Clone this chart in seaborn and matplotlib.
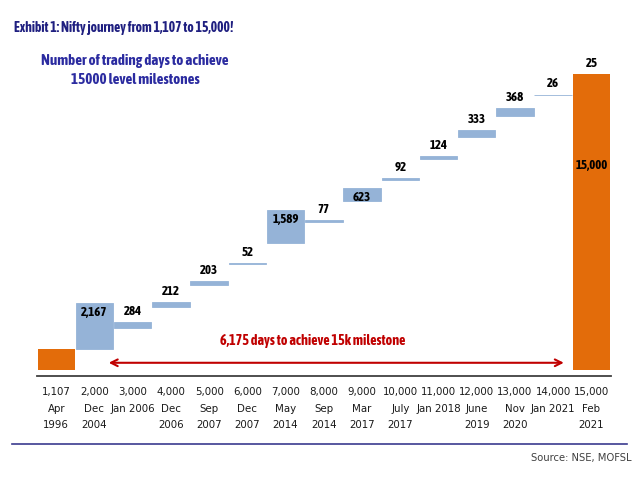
import os
import pandas as pd
import seaborn as sns
import matplotlib.pyplot as plt
from matplotlib import font_manager
from matplotlib.font_manager import FontProperties

# Nifty milestones and trading days taken to reach the next one
levels = [1107, 2000, 3000, 4000, 5000, 6000, 7000, 8000, 9000, 10000,
          11000, 12000, 13000, 14000, 15000]
dates = ['Apr\n1996', 'Dec\n2004', 'Jan 2006', 'Dec\n2006', 'Sep\n2007',
         'Dec\n2007', 'May\n2014', 'Sep\n2014', 'Mar\n2017', 'July\n2017',
         'Jan 2018', 'June\n2019', 'Nov\n2020', 'Jan 2021', 'Feb\n2021']
days = [2167, 284, 212, 203, 52, 1589, 77, 623, 92, 124, 333, 368, 26, 25]

labels = [f'{lv:,}\n{d}' for lv, d in zip(levels, dates)]

blue = '#95B3D7'
orange = '#E36C0A'
red = '#C00000'


def condensed_file(weight):
    # a true condensed sans face, picked by file name
    hits = []
    for f in font_manager.fontManager.ttflist:
        b = os.path.basename(f.fname)
        if f.style != 'normal' or f.weight != weight:
            continue
        if not ('Narrow' in b or 'Condensed' in b):
            continue
        if any(k in b for k in ('Semi', 'Extra', 'Serif', 'Mono', 'Italic', 'Display')):
            continue
        rank = 0 if 'Liberation' in b else 1 if b.startswith('NotoSans-') else 2
        hits.append((rank, len(b), f.fname))
    return sorted(hits)[0][2] if hits else None


reg_file = condensed_file(400)
bold_file = condensed_file(700)
narrow = reg_file is not None and bold_file is not None
shrink = 1.0 if narrow else 0.85


def fp(size, bold=False):
    if narrow:
        return FontProperties(fname=bold_file if bold else reg_file, size=size)
    return FontProperties(family='Liberation Sans', weight='bold' if bold else 'normal',
                          size=size * shrink)


# floating bars: start at the level, height = days
steps = pd.DataFrame({'label': labels[1:-1], 'base': levels[1:-1], 'days': days[:-1]})
ends = pd.DataFrame({'label': [labels[0], labels[-1]], 'top': [levels[1], levels[-1]]})

fig = plt.figure(figsize=(6.4, 4.8), dpi=100)
ax = fig.add_axes([0.058, 0.229, 0.896, 0.705])

sns.barplot(data=ends, x='label', y='top', order=labels, color=orange,
            width=0.98, errorbar=None, linewidth=0, saturation=1, ax=ax)
sns.barplot(data=steps, x='label', y='days', order=labels, color=blue,
            width=0.98, errorbar=None, bottom=steps['base'].values,
            edgecolor=blue, linewidth=0.6, saturation=1, ax=ax)

ax.set_ylim(1000, 17000)
ax.set_xlim(-0.5, len(labels) - 0.5)

# day labels
for i, (b, d) in enumerate(zip(steps['base'], steps['days']), start=1):
    if d > 500:
        ax.annotate(f'{d:,}', (i, b + d), xytext=(0, -7), textcoords='offset points',
                    ha='center', va='center', fontproperties=fp(9.3, True))
    else:
        ax.annotate(f'{d:,}', (i, b + d), xytext=(0, 3), textcoords='offset points',
                    ha='center', va='bottom', fontproperties=fp(9.3, True))
n = len(labels) - 1
ax.annotate(f'{days[-1]:,}', (n, levels[-1]), xytext=(0, 3), textcoords='offset points',
            ha='center', va='bottom', fontproperties=fp(9.3, True))
ax.text(n, levels[-1] * 0.713, f'{levels[-1]:,}', ha='center', va='center',
        fontproperties=fp(9.3, True))

# total span arrow
ax.annotate('', xy=(1.3, 1345), xytext=(13.35, 1345),
            arrowprops=dict(arrowstyle='<->', color=red, lw=1.5, mutation_scale=12))
ax.text(6.7, 2385, f'{sum(days):,} days to achieve 15k milestone', color=red,
        ha='center', va='center', fontproperties=fp(10.2, True))

for s in ['top', 'right', 'left']:
    ax.spines[s].set_visible(False)
ax.spines['bottom'].set_position(('outward', 4))
ax.spines['bottom'].set_color('#404040')
ax.spines['bottom'].set_linewidth(1.3)
ax.set_yticks([])
ax.set_xticks(range(len(labels)))
ax.set_xticklabels(labels, fontproperties=fp(8.2), linespacing=1.85, color='#1a1a1a')
ax.tick_params(axis='x', length=0, pad=8)
ax.set_xlabel('')
ax.set_ylabel('')

fig.text(0.022, 0.942, 'Exhibit 1: Nifty journey from 1,107 to 15,000!',
         fontproperties=fp(9.8, True), color='#1F1F80', va='center')
fig.text(0.211, 0.854, 'Number of trading days to achieve\n15000 level milestones',
         fontproperties=fp(10.8, True), color='#2B2BA0', ha='center', va='center',
         linespacing=1.45)
fig.add_artist(plt.Line2D([0.019, 0.98], [0.075, 0.075], color='#3B3B8F', lw=1.2))
fig.text(0.986, 0.045, 'Source: NSE, MOFSL', fontproperties=fp(8), color='#404040',
         ha='right', va='center')

fig.savefig('out.png', dpi=100)
